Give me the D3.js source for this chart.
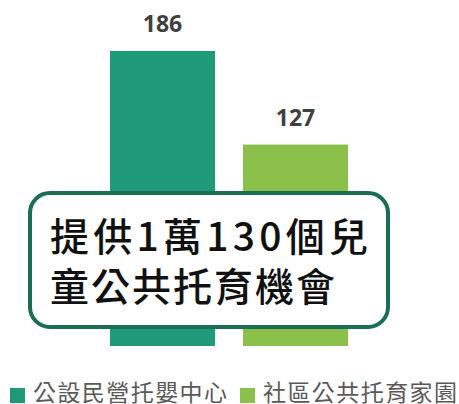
<!DOCTYPE html>
<html>
<head>
<meta charset="utf-8">
<script src="https://cdn.jsdelivr.net/npm/d3@7"></script>
<style>
  html, body { margin: 0; padding: 0; background: #fff; }
  svg { display: block; }
</style>
</head>
<body>
<svg id="chart" width="459" height="404"></svg>
<script>
// Childcare capacity by type
const categories = ["公設民營托嬰中心", "社區公共托育家園"];
const values = [186, 127];
const colors = ["#1f9a78", "#8bc14a"];
const calloutLines = ["提供1萬130個兒", "童公共托育機會"];

const svg = d3.select("#chart");
const baseY = 346;

const x = d3.scaleBand()
  .domain(categories)
  .range([43.5, 414.5])
  .paddingInner(0.2105)
  .paddingOuter(0.5);

const y = d3.scaleLinear()
  .domain([0, 186])
  .range([baseY, 51]);

// bars
svg.selectAll("rect.bar")
  .data(values)
  .join("rect")
  .attr("class", "bar")
  .attr("x", (d, i) => x(categories[i]))
  .attr("y", d => y(d))
  .attr("width", x.bandwidth())
  .attr("height", d => baseY - y(d))
  .attr("fill", (d, i) => colors[i]);

// value labels
svg.selectAll("text.val")
  .data(values)
  .join("text")
  .attr("class", "val")
  .attr("x", (d, i) => x(categories[i]) + x.bandwidth() / 2)
  .attr("y", d => y(d) - 19)
  .attr("text-anchor", "middle")
  .attr("font-family", "'Open Sans', 'Noto Sans', sans-serif")
  .attr("font-weight", 700)
  .attr("font-size", 23)
  .attr("fill", "#404040")
  .text(d => d);

// callout box
svg.append("rect")
  .attr("x", 30)
  .attr("y", 193)
  .attr("width", 358)
  .attr("height", 134)
  .attr("rx", 20)
  .attr("fill", "#fff")
  .attr("stroke", "#1b6e53")
  .attr("stroke-width", 4);

const callout = svg.append("g")
  .attr("font-family", "'Noto Sans CJK TC', 'Noto Sans CJK SC', sans-serif")
  .attr("font-weight", 500)
  .attr("font-size", 39)
  .attr("fill", "#111");

callout.append("text")
  .attr("x", 50).attr("y", 251)
  .attr("textLength", 318)
  .attr("lengthAdjust", "spacing")
  .text(calloutLines[0]);

callout.append("text")
  .attr("x", 50).attr("y", 301)
  .attr("textLength", 285)
  .attr("lengthAdjust", "spacing")
  .text(calloutLines[1]);

// legend
const legendX = [10, 240];
const legend = svg.selectAll("g.legend")
  .data(categories)
  .join("g")
  .attr("class", "legend")
  .attr("transform", (d, i) => `translate(${legendX[i]},0)`);

legend.append("rect")
  .attr("x", 0).attr("y", 388)
  .attr("width", 15).attr("height", 15)
  .attr("fill", (d, i) => colors[i]);

legend.append("text")
  .attr("x", 23).attr("y", 401)
  .attr("font-family", "'Noto Sans CJK TC', 'Noto Sans CJK SC', sans-serif")
  .attr("font-size", 23)
  .attr("fill", "#595959")
  .attr("textLength", 194)
  .attr("lengthAdjust", "spacing")
  .text(d => d);
</script>
</body>
</html>
